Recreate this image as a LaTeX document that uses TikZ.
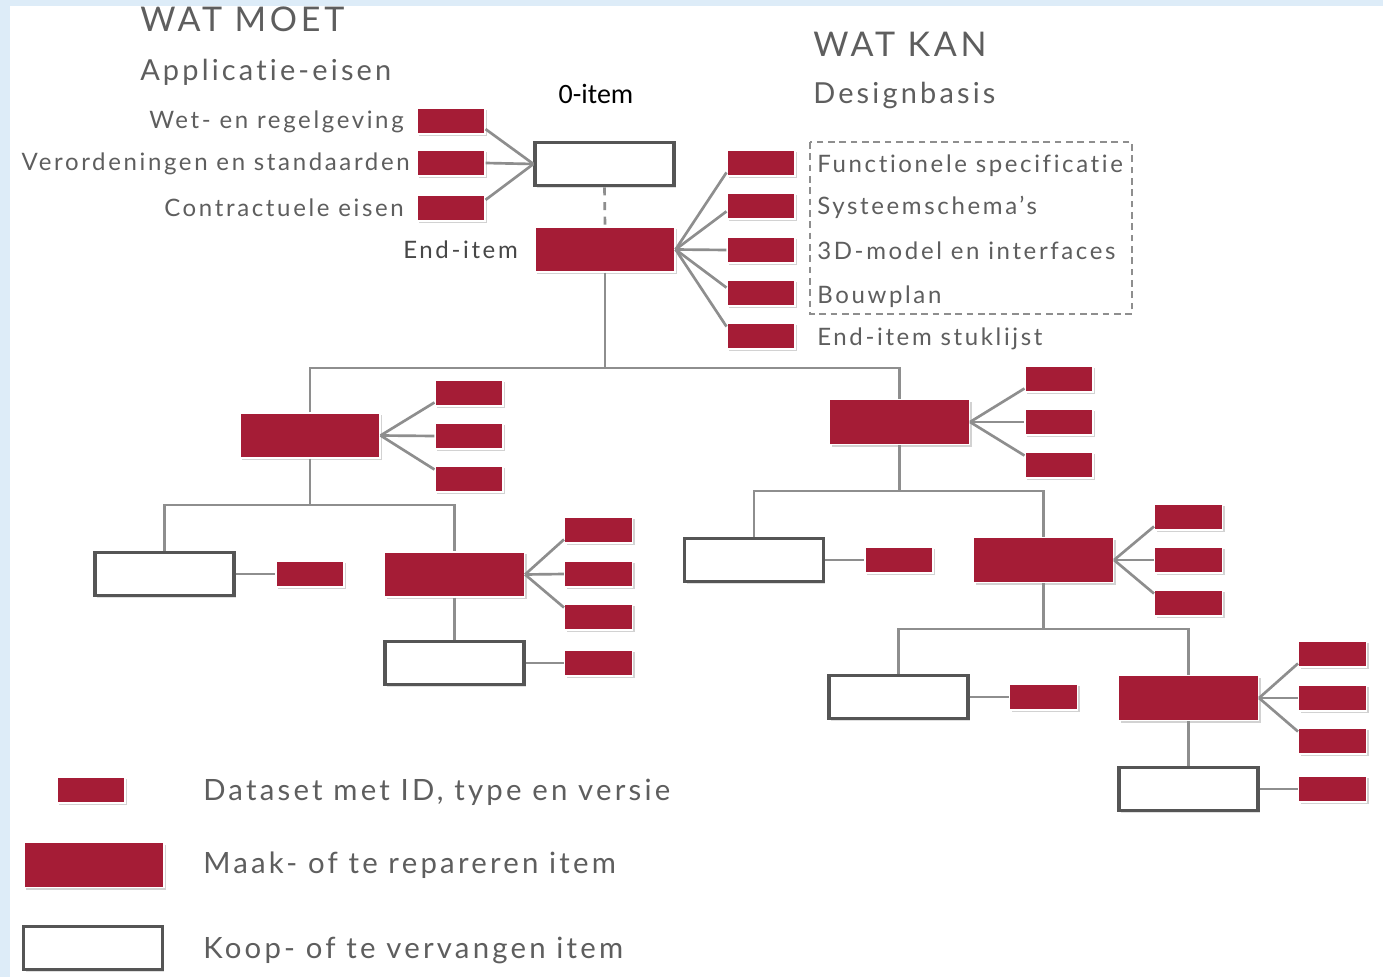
\documentclass[tikz,border=0pt]{standalone}
\usepackage{fontspec}
\setmainfont{Lato}[LetterSpace=11,Ligatures=NoCommon]
\newfontfamily\calibri{Carlito}
\usetikzlibrary{calc,shadows}
\definecolor{itemred}{HTML}{A51C36}
\definecolor{txtgray}{HTML}{5E5E5E}
\definecolor{linegray}{HTML}{8E8E8E}
\definecolor{boxgray}{HTML}{555555}
\definecolor{bgblue}{HTML}{DDECF8}
\tikzstyle{dataset}=[rectangle,fill=itemred,draw=white,line width=0.8pt,minimum width=51pt,minimum height=19.5pt,inner sep=0pt,drop shadow={opacity=0.35,shadow xshift=1.5pt,shadow yshift=-1.8pt}]
\tikzstyle{makeitem}=[dataset,minimum width=105pt,minimum height=33.75pt]
\tikzstyle{koopitem}=[rectangle,fill=white,draw=boxgray,line width=2.6pt,minimum width=104pt,minimum height=32.5pt,inner sep=0pt,drop shadow={opacity=0.25,shadow xshift=1.5pt,shadow yshift=-1.8pt}]
\tikzstyle{link}=[draw=linegray,line width=2pt]
\tikzstyle{dashframe}=[draw=linegray,line width=1.3pt,dash pattern=on 5pt off 3.5pt]
\tikzstyle{txt}=[text=txtgray,inner sep=0pt,font=\fontsize{18}{21}\selectfont]
\tikzstyle{title}=[txt,font=\fontsize{25.5}{30}\selectfont]
\tikzstyle{subtitle}=[txt,font=\fontsize{21.7}{25}\selectfont]
\tikzstyle{legendtxt}=[txt,font=\fontsize{22}{26}\selectfont]

\begin{document}
\begin{tikzpicture}[x=0.75pt,y=-0.75pt]
\useasboundingbox (0,0) rectangle (1383,977);
\fill[bgblue] (0,0) rectangle (1383,977);
\fill[white] (10,6) rectangle (1383,977);

% Headers
\node[title,anchor=base west] (wmoet) at (140,32) {WAT MOET};
\node[subtitle,anchor=base west] (appl) at (140,81) {Applicatie-eisen};
\node[title,anchor=base west] (wkan) at (813,57) {WAT KAN};
\node[subtitle,anchor=base west] (design) at (813,104) {Designbasis};
\node[inner sep=0pt,font=\calibri\fontsize{21}{25}\selectfont] (zerolbl) at (596,94) {0-item};

% Applicatie-eisen
\foreach \pos/\name/\txt in {{(404,129)/tWet/Wet- en regelgeving},{(410,171)/tVer/Verordeningen en standaarden},{(404,216)/tCon/Contractuele eisen}}
    \node[txt,anchor=base east] (\name) at \pos {\txt};
\node[txt,anchor=base east,text=black!72] (tEnd) at (518,258) {End-item};

% Designbasis
\foreach \pos/\name/\txt in {{(817,172)/tFun/Functionele specificatie},{(817,214)/tSys/Systeemschema's},{(817,259)/tMod/3D-model en interfaces},{(817,303)/tBouw/Bouwplan},{(817,345)/tStuk/End-item stuklijst}}
    \node[txt,anchor=base west] (\name) at \pos {\txt};
\draw[dashframe] (810,142) rectangle (1132,314);

% items
\foreach \pos/\name in {{(604.5,164)/zero},{(164.5,574)/A1},{(454.5,663)/A3},{(754,560)/B1},{(898.5,697)/B3},{(1188.5,789)/B5}}
    \node[koopitem] (\name) at \pos {};
\foreach \pos/\name in {{(605,249.5)/end},{(310,435.5)/A},{(454.5,574.5)/A2},{(899.5,422)/B},{(1043.5,560)/B2},{(1188.5,698)/B4}}
    \node[makeitem] (\name) at \pos {};

% datasets
\foreach \pos/\name in {{(451,121)/d1},{(451,163)/d2},{(451,208)/d3},
    {(761,163)/e1},{(761,206)/e2},{(761,250)/e3},{(761,293)/e4},{(761,336)/e5},
    {(469,393)/a1},{(469,436)/a2},{(469,479)/a3},{(310,574)/a4},
    {(598.5,530)/a5},{(598.5,574)/a6},{(598.5,617)/a7},{(598.5,663)/a8},
    {(1059,379)/b1},{(1059,422)/b2},{(1059,465)/b3},{(899,560)/b4},
    {(1188.5,517)/b5},{(1188.5,560)/b6},{(1188.5,603)/b7},{(1043.5,697)/b8},
    {(1332.5,654)/b9},{(1332.5,698)/b10},{(1332.5,741)/b11},{(1332.5,789)/b12}}
    \node[dataset] (\name) at \pos {};

% fans
\foreach \dest/\f in {d1/0.6,d2/0,d3/-0.6}
    \draw[link] (zero.west) -- ($(\dest.east)!\f!(\dest.south east)$);
\foreach \dest/\f in {e1/0.7,e2/0.4,e3/0,e4/-0.4,e5/-0.7}
    \draw[link] (end.east) -- ($(\dest.west)!\f!(\dest.south west)$);
\foreach \src/\dest/\f in {A/a1/0.7,A/a2/0,A/a3/-0.7,A2/a5/0.7,A2/a6/0,A2/a7/-0.7,
    B/b1/0.7,B/b2/0,B/b3/-0.7,B2/b5/0.7,B2/b6/0,B2/b7/-0.7,B4/b9/0.7,B4/b10/0,B4/b11/-0.7}
    \draw[link] (\src.east) -- ($(\dest.west)!\f!(\dest.south west)$);
\foreach \src/\dest in {A1/a4,A3/a8,B1/b4,B3/b8,B5/b12}
    \draw[link] (\src.east) -- (\dest.west);

% tree
\draw[link,dash pattern=on 6pt off 5pt] (zero.south) -- (end.north);
\coordinate (busE) at (605,368);
\coordinate (busA) at (310,505);
\coordinate (busB) at (899.5,491);
\coordinate (busB2) at (1043.5,629);
\draw[link] (end.south) -- (busE);
\draw[link] (A.north) |- (busE) -| (B.north);
\draw[link] (A.south) -- (busA);
\draw[link] (A1.north) |- (busA) -| (A2.north);
\draw[link] (B.south) -- (busB);
\draw[link] (B1.north) |- (busB) -| (B2.north);
\draw[link] (B2.south) -- (busB2);
\draw[link] (B3.north) |- (busB2) -| (B4.north);
\draw[link] (A2.south) -- (A3.north);
\draw[link] (B4.south) -- (B5.north);

% Legend
\node[dataset] (lgData) at (91,790) {};
\node[makeitem] (lgMaak) at (94,865) {};
\node[koopitem] (lgKoop) at (93,948) {};
\node[legendtxt,anchor=base west] (lgt1) at (203,800) {Dataset met ID, type en versie};
\node[legendtxt,anchor=base west] (lgt2) at (203,873) {Maak- of te repareren item};
\node[legendtxt,anchor=base west] (lgt3) at (203,958) {Koop- of te vervangen item};

\fill[bgblue] (0,0) rectangle (1383,6);
\end{tikzpicture}
\end{document}
